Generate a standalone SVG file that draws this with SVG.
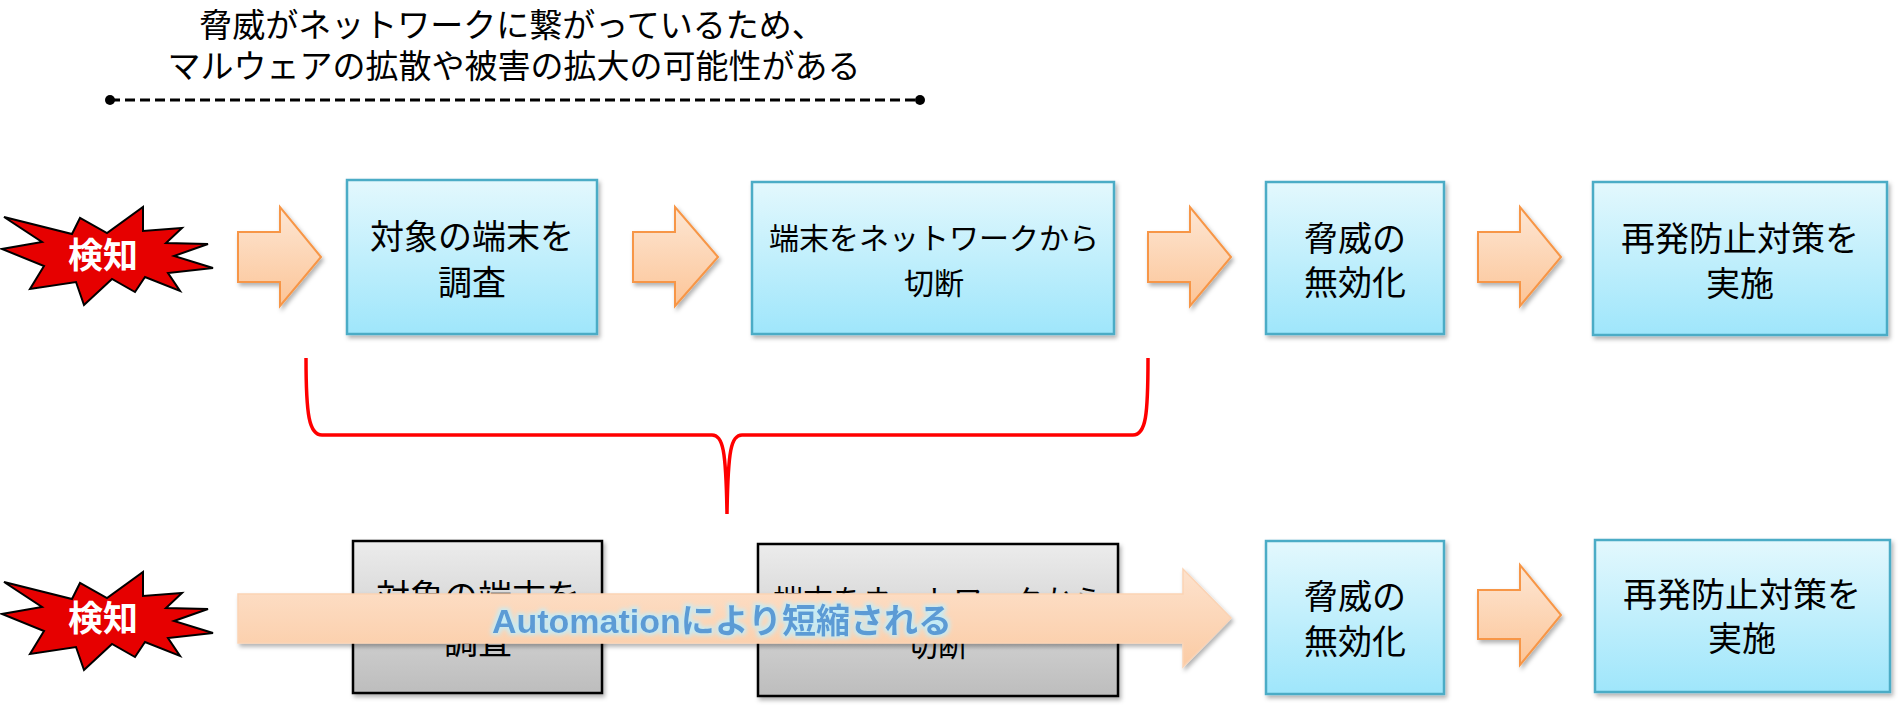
<svg xmlns="http://www.w3.org/2000/svg" width="1899" height="710" viewBox="0 0 1899 710">
<defs>
<linearGradient id="gBlue" x1="0" y1="0" x2="0" y2="1">
<stop offset="0" stop-color="#e3f8fd"/>
<stop offset="1" stop-color="#9fe6fb"/>
</linearGradient>
<linearGradient id="gGray" x1="0" y1="0" x2="0" y2="1">
<stop offset="0" stop-color="#ececec"/>
<stop offset="1" stop-color="#bdbdbd"/>
</linearGradient>
<linearGradient id="gOrange" x1="0" y1="0" x2="0" y2="1">
<stop offset="0" stop-color="#fde6d3"/>
<stop offset="1" stop-color="#fcc598"/>
</linearGradient>
<linearGradient id="gBig" x1="0" y1="0" x2="0" y2="1">
<stop offset="0" stop-color="#fde2cd"/>
<stop offset="1" stop-color="#fbcba4"/>
</linearGradient>
<filter id="shadow" x="-10%" y="-10%" width="125%" height="130%">
<feDropShadow dx="2" dy="3" stdDeviation="2" flood-color="#000" flood-opacity="0.3"/>
</filter>
<filter id="glow" x="-10%" y="-30%" width="120%" height="160%">
<feMorphology in="SourceAlpha" operator="dilate" radius="2" result="d"/>
<feGaussianBlur in="d" stdDeviation="2" result="b"/>
<feFlood flood-color="#bfeefc" flood-opacity="0.9"/>
<feComposite in2="b" operator="in" result="g"/>
<feMerge><feMergeNode in="g"/><feMergeNode in="SourceGraphic"/></feMerge>
</filter>
<polygon id="star" points="4,217 72,234 80,218 107,233 143,207 143,231 182,228 166,243 208,244 174,256 213,268 168,273 180,291 145,277 135,292 112,279 84,305 76,282 30,289 44,266 2,249 42,242"/>
</defs>
<style>
text{font-family:"Noto Sans CJK JP","Liberation Sans",sans-serif;}
.t{font-size:34px;fill:#000;text-anchor:middle;}
.t2{font-size:30px;fill:#000;text-anchor:middle;}
.title{font-size:33px;fill:#000;text-anchor:middle;}
.blue{fill:url(#gBlue);stroke:#4bacc6;stroke-width:2.5;}
.gray{fill:url(#gGray);stroke:#000;stroke-width:2.5;}
.arr{fill:url(#gOrange);stroke:#f79646;stroke-width:2;}
.star{fill:#e60000;stroke:#000;stroke-width:2;stroke-linejoin:miter;}
.kenchi{font-size:35px;font-weight:bold;fill:#fff;text-anchor:middle;}
.auto{font-family:"Liberation Sans","Noto Sans CJK JP",sans-serif;font-size:34px;font-weight:bold;fill:#5b9bd5;text-anchor:middle;}
</style>

<g id="title">
<text class="title" x="512" y="37">脅威がネットワークに繋がっているため、</text>
<text class="title" x="514" y="78">マルウェアの拡散や被害の拡大の可能性がある</text>
</g>

<g id="connectors">
<line x1="110" y1="100" x2="920" y2="100" stroke="#000" stroke-width="3" stroke-dasharray="10 5"/>
<circle cx="110" cy="100" r="5" fill="#000"/>
<circle cx="920" cy="100" r="5" fill="#000"/>
<path d="M306,358 C306,415 309,435 322,435 L712,435 C723,435 726,450 727,514 C728,450 731,435 742,435 L1133,435 C1146,435 1148,415 1148,358" fill="none" stroke="#ff0000" stroke-width="3.5"/>
</g>

<!-- Top row -->
<g id="detect1">
<use href="#star" class="star"/>
<text class="kenchi" x="103" y="268">検知</text>
</g>
<g id="arrow1"><polygon class="arr" filter="url(#shadow)" points="238,232 280,232 280,207 321,257 280,306 280,282 238,282"/></g>
<g id="box1">
<rect class="blue" filter="url(#shadow)" x="347" y="180" width="250" height="154"/>
<text class="t" x="472" y="249">対象の端末を</text>
<text class="t" x="472" y="295">調査</text>
</g>
<g id="arrow2"><polygon class="arr" filter="url(#shadow)" points="633,232 675,232 675,207 718,257 675,306 675,282 633,282"/></g>
<g id="box2">
<rect class="blue" filter="url(#shadow)" x="752" y="182" width="362" height="152"/>
<text class="t2" x="934" y="249">端末をネットワークから</text>
<text class="t2" x="934" y="294">切断</text>
</g>
<g id="arrow3"><polygon class="arr" filter="url(#shadow)" points="1148,232 1190,232 1190,207 1231,257 1190,306 1190,282 1148,282"/></g>
<g id="box3">
<rect class="blue" filter="url(#shadow)" x="1266" y="182" width="178" height="152"/>
<text class="t" x="1355" y="251">脅威の</text>
<text class="t" x="1355" y="295">無効化</text>
</g>
<g id="arrow4"><polygon class="arr" filter="url(#shadow)" points="1478,232 1520,232 1520,207 1561,257 1520,306 1520,282 1478,282"/></g>
<g id="box4">
<rect class="blue" filter="url(#shadow)" x="1593" y="182" width="294" height="153"/>
<text class="t" x="1740" y="251">再発防止対策を</text>
<text class="t" x="1740" y="296">実施</text>
</g>

<!-- Bottom row -->
<g id="detect2" transform="translate(0,365)">
<use href="#star" class="star"/>
<text class="kenchi" x="103" y="266">検知</text>
</g>
<g id="gbox1">
<rect class="gray" filter="url(#shadow)" x="353" y="541" width="249" height="152"/>
<text class="t" x="478" y="609">対象の端末を</text>
<text class="t" x="478" y="654">調査</text>
</g>
<g id="gbox2">
<rect class="gray" filter="url(#shadow)" x="758" y="544" width="360" height="152"/>
<text class="t2" x="938" y="611">端末をネットワークから</text>
<text class="t2" x="938" y="656">切断</text>
</g>
<g id="bigArrow">
<polygon filter="url(#shadow)" fill="url(#gBig)" stroke="#fbd3b4" stroke-width="1.5" points="238,594 1183,594 1183,569 1231,618 1183,667 1183,643 238,643"/>
<text class="auto" filter="url(#glow)" x="722" y="633">Automationにより短縮される</text>
</g>
<g id="box3b">
<rect class="blue" filter="url(#shadow)" x="1266" y="541" width="178" height="153"/>
<text class="t" x="1355" y="609">脅威の</text>
<text class="t" x="1355" y="654">無効化</text>
</g>
<g id="arrow4b"><polygon class="arr" filter="url(#shadow)" points="1478,590 1520,590 1520,565 1561,615 1520,665 1520,639 1478,639"/></g>
<g id="box4b">
<rect class="blue" filter="url(#shadow)" x="1595" y="540" width="295" height="152"/>
<text class="t" x="1742" y="607">再発防止対策を</text>
<text class="t" x="1742" y="651">実施</text>
</g>
</svg>
